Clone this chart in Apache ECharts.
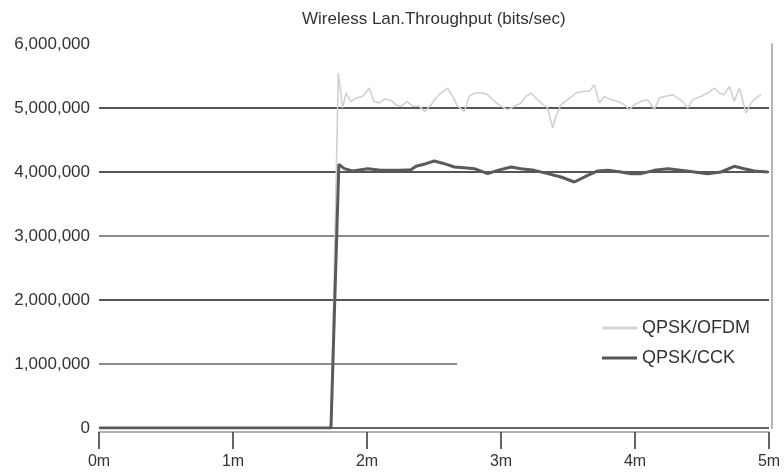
<!DOCTYPE html>
<html>
<head>
<meta charset="utf-8">
<script src="https://cdn.jsdelivr.net/npm/echarts@6/dist/echarts.min.js"></script>
<style>
html,body{margin:0;padding:0;background:#fff;}
#chart{width:784px;height:473px;}
</style>
</head>
<body>
<div id="chart"></div>
<script>
var titleText = 'Wireless Lan.Throughput (bits/sec)';
var seriesNames = ['QPSK/OFDM', 'QPSK/CCK'];
var xTickLabels = ['0m', '1m', '2m', '3m', '4m', '5m'];
var yTickValues = [0, 1000000, 2000000, 3000000, 4000000, 5000000, 6000000];

// QPSK/OFDM: time (minutes) and throughput (bits/sec)
var ofdmTime = [0, 1.731, 1.786, 1.818, 1.843, 1.881, 1.918, 1.968, 2.017, 2.050, 2.092, 2.129, 2.179, 2.216, 2.254, 2.299, 2.341, 2.390, 2.433, 2.478, 2.515, 2.552, 2.602, 2.639, 2.677, 2.726, 2.764, 2.801, 2.863, 2.901, 2.950, 3.000, 3.050, 3.099, 3.149, 3.187, 3.224, 3.261, 3.299, 3.348, 3.386, 3.410, 3.448, 3.498, 3.560, 3.622, 3.659, 3.696, 3.734, 3.771, 3.821, 3.871, 3.920, 3.958, 3.995, 4.045, 4.095, 4.144, 4.182, 4.231, 4.281, 4.318, 4.356, 4.393, 4.430, 4.493, 4.542, 4.592, 4.629, 4.667, 4.704, 4.741, 4.779, 4.828, 4.866, 4.903, 4.940];
var ofdmValue = [0, 0, 5547000, 5000000, 5234000, 5104000, 5156000, 5182000, 5312000, 5104000, 5078000, 5141000, 5120000, 5052000, 5026000, 5104000, 5026000, 5026000, 4948000, 5052000, 5156000, 5234000, 5312000, 5182000, 5026000, 4948000, 5182000, 5234000, 5234000, 5208000, 5104000, 5026000, 4974000, 5026000, 5078000, 5182000, 5234000, 5156000, 5078000, 5000000, 4688000, 4870000, 5052000, 5130000, 5234000, 5260000, 5260000, 5365000, 5078000, 5182000, 5130000, 5104000, 5052000, 4974000, 5052000, 5104000, 5130000, 4974000, 5156000, 5182000, 5208000, 5156000, 5104000, 5000000, 5130000, 5182000, 5234000, 5312000, 5234000, 5208000, 5339000, 5104000, 5312000, 4922000, 5078000, 5156000, 5208000];

// QPSK/CCK: time (minutes) and throughput (bits/sec)
var cckTime = [0, 1.731, 1.790, 1.831, 1.893, 2.005, 2.104, 2.254, 2.328, 2.366, 2.440, 2.502, 2.577, 2.652, 2.726, 2.801, 2.901, 2.975, 3.075, 3.149, 3.249, 3.348, 3.448, 3.547, 3.647, 3.721, 3.796, 3.896, 3.970, 4.045, 4.144, 4.244, 4.343, 4.443, 4.542, 4.642, 4.741, 4.816, 4.890, 4.990];
var cckValue = [0, 0, 4120000, 4052000, 4016000, 4050000, 4026000, 4026000, 4036000, 4089000, 4130000, 4172000, 4130000, 4078000, 4068000, 4052000, 3974000, 4026000, 4078000, 4052000, 4026000, 3974000, 3922000, 3844000, 3948000, 4016000, 4026000, 4000000, 3974000, 3974000, 4026000, 4052000, 4026000, 4000000, 3974000, 4000000, 4089000, 4052000, 4016000, 4000000];

function pairs(t, v) {
  var out = [];
  for (var i = 0; i < t.length; i++) out.push([t[i], v[i]]);
  return out;
}

var FONT = 'Liberation Sans';
var chart = echarts.init(document.getElementById('chart'));
chart.setOption({
  animation: false,
  backgroundColor: '#fff',
  title: {
    text: titleText,
    left: 302,
    top: 11,
    padding: 0,
    textStyle: { fontFamily: FONT, fontSize: 17, fontWeight: 'normal', color: '#333' }
  },
  legend: {
    data: [
      { name: seriesNames[0], icon: 'rect', itemStyle: { color: '#d4d4d4' } },
      { name: seriesNames[1], icon: 'rect', itemStyle: { color: '#555' } }
    ],
    orient: 'vertical',
    left: 457,
    top: 306,
    padding: [13, 25, 8, 145],
    backgroundColor: '#fff',
    itemWidth: 35,
    itemHeight: 3,
    itemGap: 12,
    textStyle: { fontFamily: FONT, fontSize: 18, color: '#333', lineHeight: 18 }
  },
  grid: { left: 99, right: 15, top: 44, bottom: 45, containLabel: false },
  xAxis: {
    type: 'value',
    min: 0,
    max: 5,
    interval: 1,
    offset: 4,
    axisLine: { onZero: false, lineStyle: { color: '#b0b0b0', width: 2 } },
    axisTick: { show: true, length: 17, lineStyle: { color: '#333', width: 1.5 } },
    axisLabel: {
      margin: 22,
      fontFamily: FONT, fontSize: 16, color: '#333',
      formatter: function (v) { return xTickLabels[Math.round(v)]; }
    },
    splitLine: { show: false }
  },
  yAxis: [{
    type: 'value',
    min: yTickValues[0],
    max: yTickValues[yTickValues.length - 1],
    interval: 1000000,
    axisLine: { show: false },
    axisTick: { show: false },
    axisLabel: {
      margin: 9,
      fontFamily: FONT, fontSize: 17, color: '#333',
      padding: [0, 0, 8, 0],
      formatter: function (v) { return v.toLocaleString('en-US'); }
    },
    splitLine: {
      show: true,
      lineStyle: { width: 2, color: ['#666', '#8a8a8a', '#555', '#8a8a8a', '#555', '#555', 'rgba(0,0,0,0)'] }
    }
  }, {
    type: 'value',
    position: 'right',
    min: yTickValues[0],
    max: yTickValues[yTickValues.length - 1],
    offset: 3,
    z: 10,
    axisLine: { show: true, lineStyle: { color: '#b5b5b5', width: 2 } },
    axisTick: { show: false },
    axisLabel: { show: false },
    splitLine: { show: false }
  }],
  series: [{
    name: seriesNames[0],
    type: 'line',
    symbol: 'none',
    data: pairs(ofdmTime, ofdmValue),
    lineStyle: { color: '#cfcfcf', width: 1.5 },
    itemStyle: { color: '#cfcfcf' },
    z: 2
  }, {
    name: seriesNames[1],
    type: 'line',
    symbol: 'none',
    data: pairs(cckTime, cckValue),
    lineStyle: { color: '#5a5a5a', width: 3 },
    itemStyle: { color: '#5a5a5a' },
    z: 3
  }]
});
</script>
</body>
</html>
